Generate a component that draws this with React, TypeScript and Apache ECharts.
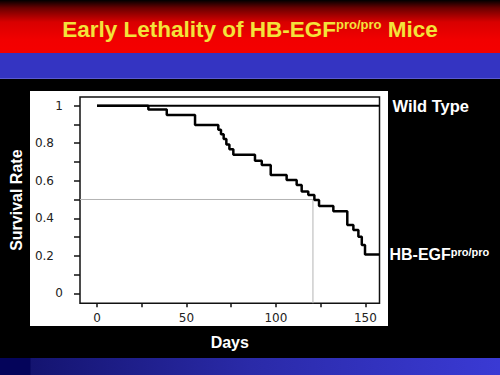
import React, { useEffect, useRef } from "react";
import * as echarts from "echarts";

// ---- data ----
const mutantDays = [0, 28.7, 39, 54.8, 67.8, 69.3, 70.8, 72.3, 74, 76.2, 88.3, 92.1, 97.1, 106, 111.6, 114.4, 118.1, 121.5, 124.1, 132.1, 139.9, 143.3, 146.1, 148, 149.8, 157.9];
const mutantSurvival = [1, 0.98, 0.95, 0.897, 0.872, 0.847, 0.822, 0.793, 0.767, 0.738, 0.707, 0.684, 0.631, 0.604, 0.577, 0.542, 0.524, 0.497, 0.465, 0.438, 0.364, 0.337, 0.301, 0.257, 0.207, 0.207];
const wildDays = [0, 157.9];
const wildSurvival = [1, 1];
const medianDay = 120.7;
const medianSurvival = 0.5;
const xMin = -9.5;
const xMax = 157.9;
const yMin = -0.053;
const yMax = 1.046;
const xTickLabels = [0, 50, 100, 150];
const xTicks = [0, 25, 50, 75, 100, 125, 150];
const yTickLabels = [0, 0.2, 0.4, 0.6, 0.8, 1];
const yTicks = [0, 0.1, 0.2, 0.3, 0.4, 0.5, 0.6, 0.7, 0.8, 0.9, 1];

const BOLD = "Liberation Sans, Arial, sans-serif";

export default function App() {
  const ref = useRef<HTMLDivElement>(null);
  useEffect(() => {
    const chart = echarts.init(ref.current!, null, { renderer: "svg" });
    const mutant = mutantDays.map((d, i) => [d, mutantSurvival[i]]);
    const wild = wildDays.map((d, i) => [d, wildSurvival[i]]);
    chart.setOption({
      animation: false,
      title: {
        text: "{m|Early Lethality of HB-EGF}{s|pro/pro}{m| Mice}",
        left: "center",
        top: 13,
        textStyle: {
          rich: {
            m: { fontSize: 22.5, fontWeight: "bold", color: "#f3e33a", fontFamily: BOLD },
            s: { fontSize: 13, fontWeight: "bold", color: "#f3e33a", fontFamily: BOLD, verticalAlign: "top" },
          },
        },
      },
      grid: {
        left: 80,
        top: 97,
        right: 120.5,
        bottom: 71.7,
        show: true,
        containLabel: false,
        outerBoundsMode: "none",
        borderColor: "#111",
        borderWidth: 1.5,
        backgroundColor: "transparent",
      },
      xAxis: {
        type: "value",
        min: xMin,
        max: xMax,
        name: "Days",
        nameLocation: "middle",
        nameGap: 31,
        nameTextStyle: { color: "#fff", fontSize: 16, fontWeight: "bold", fontFamily: BOLD },
        axisLine: { show: false, onZero: false },
        splitLine: { show: false },
        axisTick: { show: true, customValues: xTicks, length: 4, lineStyle: { color: "#111", width: 1.5 } },
        axisLabel: { customValues: xTickLabels, margin: 9, color: "#222", fontSize: 12, fontFamily: "DejaVu Sans" },
      },
      yAxis: {
        type: "value",
        min: yMin,
        max: yMax,
        name: "Survival Rate",
        nameLocation: "middle",
        nameGap: 55,
        nameRotate: 90,
        nameTextStyle: { color: "#fff", fontSize: 16, fontWeight: "bold", fontFamily: BOLD },
        axisLine: { show: false, onZero: false },
        splitLine: { show: false },
        axisTick: { show: true, customValues: yTicks, length: 6, lineStyle: { color: "#111", width: 1.5 } },
        axisLabel: {
          customValues: yTickLabels,
          margin: 17,
          color: "#222",
          fontSize: 12,
          fontFamily: "DejaVu Sans",
          formatter: (v: number) => (Number.isInteger(v) ? `{i|${v}}` : `{d|${v.toFixed(1)}}`),
          rich: {
            i: { fontSize: 12, fontFamily: "DejaVu Sans", color: "#222" },
            d: { fontSize: 12, fontFamily: "DejaVu Sans", color: "#222", padding: [0, 9, 0, 0] },
          },
        },
      },
      series: [
        {
          type: "line",
          name: "median",
          data: [
            [xMin, medianSurvival],
            [medianDay, medianSurvival],
            [medianDay, yMin],
          ],
          symbol: "none",
          lineStyle: { color: "#b4b4b4", width: 1 },
          z: 1,
          silent: true,
        },
        {
          type: "line",
          name: "Wild Type",
          data: wild,
          symbol: "none",
          lineStyle: { color: "#000", width: 2 },
          endLabel: {
            show: true,
            formatter: "Wild Type",
            color: "#fff",
            fontSize: 16.5,
            fontWeight: "bold",
            fontFamily: BOLD,
            distance: 13,
          },
          z: 3,
        },
        {
          type: "line",
          name: "HB-EGF pro/pro",
          data: mutant,
          step: "end",
          symbol: "none",
          lineStyle: { color: "#000", width: 2.5 },
          endLabel: {
            show: true,
            formatter: "{m|HB-EGF}{s|pro/pro}",
            distance: 10,
            rich: {
              m: { color: "#fff", fontSize: 16, fontWeight: "bold", fontFamily: BOLD },
              s: { color: "#fff", fontSize: 11, fontWeight: "bold", fontFamily: BOLD, verticalAlign: "top" },
            },
          },
          z: 3,
        },
      ],
    });
    return () => chart.dispose();
  }, []);

  return (
    <div style={{ position: "fixed", left: 0, top: 0, width: 500, height: 375, background: "#000", overflow: "hidden" }}>
      <div
        style={{
          position: "absolute",
          left: 0,
          top: 0,
          width: 500,
          height: 53,
          background: "linear-gradient(to bottom, #000 0px, #6a0000 8px, #d80000 22px, #f20000 40px, #f50000 53px)",
        }}
      />
      <div style={{ position: "absolute", left: 0, top: 53, width: 500, height: 25, background: "#3434c2" }} />
      <div style={{ position: "absolute", left: 0, top: 78, width: 500, height: 1, background: "#5a5ad0" }} />
      <div style={{ position: "absolute", left: 30, top: 91, width: 358, height: 235, background: "#fff" }} />
      <div
        style={{
          position: "absolute",
          left: 0,
          top: 358,
          width: 500,
          height: 17,
          background: "linear-gradient(to right, #04045a 0px, #04045a 30px, #141470 31px, #2a2aa8 250px, #3a3ad4 500px)",
        }}
      />
      <div ref={ref} style={{ position: "absolute", left: 0, top: 0, width: 500, height: 375 }} />
    </div>
  );
}
